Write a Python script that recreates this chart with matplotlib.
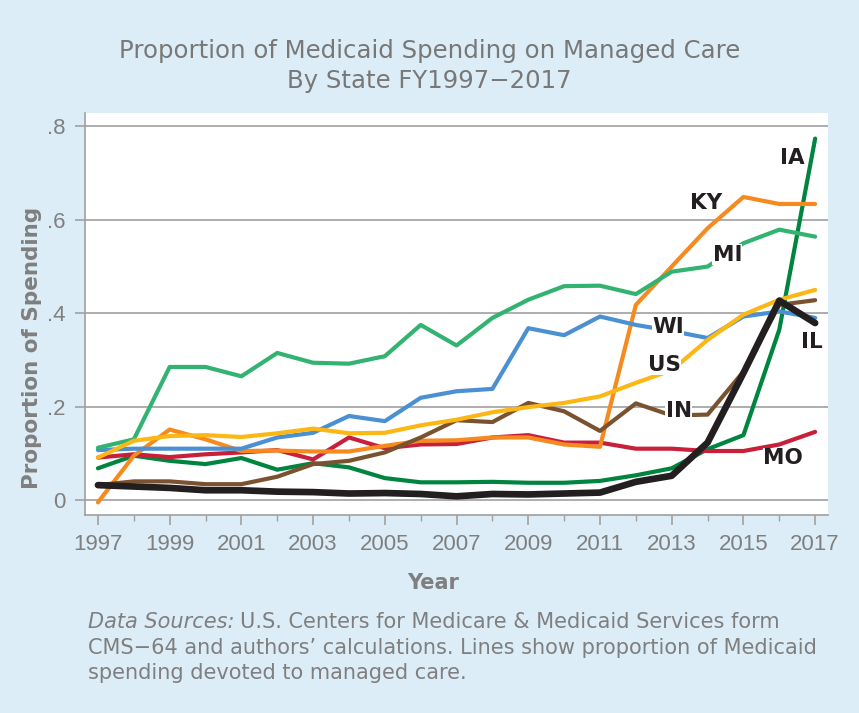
import matplotlib
matplotlib.use("Agg")
import matplotlib.pyplot as plt

years = list(range(1997, 2018))

mi = [0.112, 0.130, 0.285, 0.285, 0.265, 0.315, 0.294, 0.292, 0.308, 0.375, 0.331,
      0.390, 0.429, 0.458, 0.459, 0.441, 0.489, 0.500, 0.550, 0.579, 0.564]
wi = [0.107, 0.110, 0.110, 0.110, 0.110, 0.134, 0.144, 0.180, 0.169, 0.219, 0.233,
      0.238, 0.368, 0.353, 0.393, 0.375, 0.362, 0.347, 0.393, 0.404, 0.390]
us = [0.091, 0.127, 0.137, 0.139, 0.135, 0.143, 0.153, 0.143, 0.144, 0.160, 0.172,
      0.188, 0.199, 0.208, 0.222, 0.251, 0.278, 0.343, 0.397, 0.429, 0.450]
ind = [0.032, 0.040, 0.040, 0.034, 0.034, 0.050, 0.077, 0.084, 0.102, 0.134, 0.171,
       0.167, 0.208, 0.190, 0.148, 0.207, 0.181, 0.183, 0.275, 0.418, 0.428]
ky = [-0.005, 0.095, 0.151, 0.130, 0.105, 0.106, 0.104, 0.104, 0.116, 0.127, 0.128,
      0.134, 0.134, 0.119, 0.114, 0.418, 0.500, 0.582, 0.649, 0.634, 0.634]
mo = [0.091, 0.098, 0.092, 0.098, 0.102, 0.107, 0.087, 0.134, 0.111, 0.119, 0.120,
      0.134, 0.139, 0.123, 0.123, 0.110, 0.110, 0.105, 0.105, 0.119, 0.146]
ia = [0.068, 0.095, 0.084, 0.077, 0.090, 0.065, 0.079, 0.070, 0.047, 0.038, 0.038,
      0.039, 0.037, 0.037, 0.041, 0.053, 0.068, 0.109, 0.139, 0.365, 0.774]
il = [0.032, 0.029, 0.026, 0.021, 0.021, 0.018, 0.017, 0.014, 0.015, 0.013, 0.008,
      0.013, 0.012, 0.014, 0.016, 0.039, 0.052, 0.123, 0.272, 0.427, 0.379]

series = [
    ("IA", ia, "#00843f", 3.0),
    ("MO", mo, "#c8203a", 3.0),
    ("KY", ky, "#f68a1f", 3.0),
    ("IN", ind, "#7b5230", 3.0),
    ("WI", wi, "#4a90d2", 3.0),
    ("MI", mi, "#33b371", 3.0),
    ("US", us, "#fdb714", 3.0),
    ("IL", il, "#231f20", 4.8),
]

# label positions (year, value)
labels = {
    "IA": (2016.35, 0.732),
    "KY": (2013.95, 0.636),
    "MI": (2014.55, 0.525),
    "WI": (2012.9, 0.371),
    "US": (2012.8, 0.290),
    "IN": (2013.2, 0.190),
    "IL": (2016.9, 0.339),
    "MO": (2016.1, 0.090),
}

bg = "#dcedf7"
gray = "#7f7f80"

fig = plt.figure(figsize=(8.59, 7.13), dpi=100, facecolor=bg)
ax = fig.add_axes([0.099, 0.2777, 0.865, 0.5633])
ax.set_facecolor("white")

for name, vals, color, lw in series:
    ax.plot(years, vals, color=color, lw=lw, solid_capstyle="round", solid_joinstyle="round")

for name, (x, y) in labels.items():
    ax.text(x, y, name, ha="center", va="center", fontsize=15.5, fontweight="bold",
            color="#231f20", family="DejaVu Sans",
            bbox=dict(facecolor="white", edgecolor="none", pad=0.3))

ax.set_xlim(1996.64, 2017.36)
ax.set_ylim(-0.032, 0.828)
ax.set_xticks(range(1997, 2018, 2))
ax.set_xticks(range(1997, 2018), minor=True)
ax.set_yticks([0, 0.2, 0.4, 0.6, 0.8])
ax.set_yticklabels(["0", ".2", ".4", ".6", ".8"])
ax.grid(axis="y", color="#a0a0a0", lw=1.2)
ax.set_axisbelow(True)

for s in ["top", "right"]:
    ax.spines[s].set_visible(False)
for s in ["left", "bottom"]:
    ax.spines[s].set_color("#a0a0a0")
    ax.spines[s].set_linewidth(1.2)

ax.tick_params(axis="both", which="major", length=7, color="#a0a0a0", width=1.2,
               labelcolor=gray, labelsize=16, pad=7)
ax.tick_params(axis="x", which="minor", length=4, color="#a0a0a0", width=1.0)
for t in ax.get_xticklabels() + ax.get_yticklabels():
    t.set_family("Liberation Sans")

ax.set_xlabel("Year", fontsize=15, fontweight="bold", color=gray, family="DejaVu Sans")
ax.xaxis.set_label_coords((433 - 85) / 743, (516 - 574) / 403)
ax.set_ylabel("Proportion of Spending", fontsize=15.5, fontweight="bold", color=gray,
              family="DejaVu Sans")
ax.yaxis.set_label_coords((42 - 85) / 743, (516 - 348) / 403)

fig.text(0.5, 1 - 51 / 713, "Proportion of Medicaid Spending on Managed Care",
         ha="center", va="center", fontsize=17.6, color="#787878", family="DejaVu Sans")
fig.text(0.5, 1 - 81 / 713, "By State FY1997\u22122017",
         ha="center", va="center", fontsize=17.6, color="#787878", family="DejaVu Sans")

fs_note = 15
note_x = 88 / 859
t1 = fig.text(note_x, 1 - 622 / 713, "Data Sources:", style="italic", fontsize=fs_note,
              color=gray, family="DejaVu Sans", va="center")
fig.canvas.draw()
ext = t1.get_window_extent(renderer=fig.canvas.get_renderer())
fig.text(ext.x1 / fig.bbox.width + 0.006, 1 - 622 / 713,
         "U.S. Centers for Medicare & Medicaid Services form",
         fontsize=fs_note, color=gray, family="DejaVu Sans", va="center")
fig.text(note_x, 1 - 648 / 713,
         "CMS\u221264 and authors\u2019 calculations. Lines show proportion of Medicaid",
         fontsize=fs_note, color=gray, family="DejaVu Sans", va="center")
fig.text(note_x, 1 - 673 / 713, "spending devoted to managed care.",
         fontsize=fs_note, color=gray, family="DejaVu Sans", va="center")

fig.savefig("out.png", dpi=100, facecolor=bg)
